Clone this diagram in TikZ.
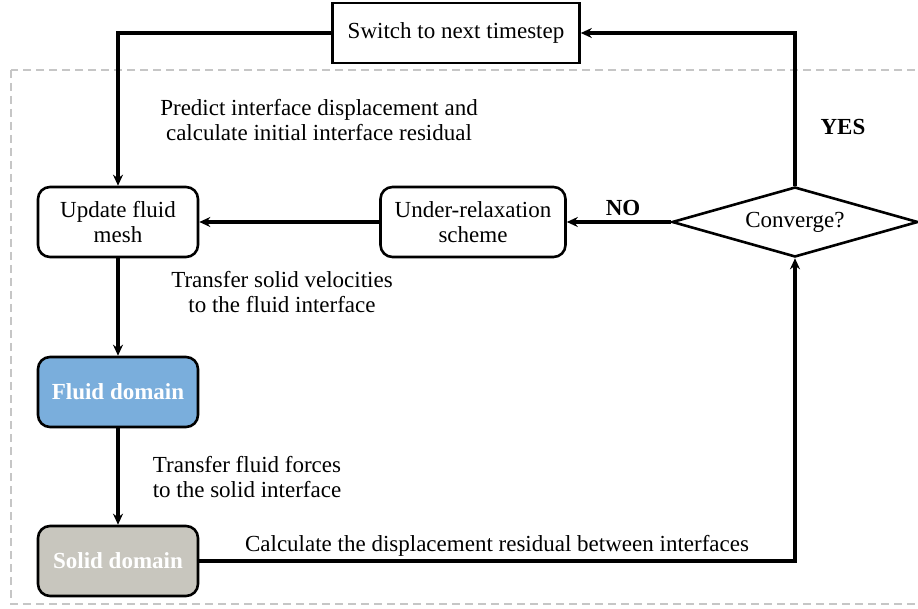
\documentclass[tikz,border=0pt]{standalone}
\usepackage{fontspec}
\setmainfont{Liberation Serif}
\usetikzlibrary{arrows.meta,shapes.geometric}
\begin{document}
\begin{tikzpicture}[x=1pt,y=-1pt,
  every node/.style={font=\fontsize{23}{25.5}\selectfont},
  conn/.style={line width=3.2pt,-{Stealth[length=11pt,width=10pt]}},
  rbox/.style={draw,line width=2.6pt,rounded corners=12pt,minimum width=160pt,minimum height=70pt,align=center,inner sep=2pt},
  lbl/.style={align=center,inner sep=0pt},
  bld/.style={font=\fontsize{23}{25.5}\selectfont\bfseries}]
\useasboundingbox (0,0) rectangle (918,609);
\draw[gray!45,line width=1.8pt,dash pattern=on 8pt off 5pt] (11,70) rectangle (930,604);
\node[draw,line width=2.6pt,minimum width=247pt,minimum height=60pt] (sw) at (456,33) {Switch to next timestep};
\node[rbox] (upd) at (118,222) {Update fluid\\mesh};
\node[rbox,minimum width=185pt] (ur) at (473,222) {Under-relaxation\\scheme};
\node[draw,diamond,line width=2.6pt,aspect=3.5,minimum width=246pt,minimum height=70pt,inner sep=0pt] (cv) at (795,222) {Converge?};
\node[rbox,bld,fill={rgb,255:red,122;green,174;blue,220},text=white] (fl) at (118,392) {Fluid domain};
\node[rbox,bld,fill={rgb,255:red,200;green,198;blue,190},text=white] (so) at (118,561) {Solid domain};
\coordinate (c1) at (upd.north |- sw.west);
\coordinate (c2) at (cv.north |- sw.east);
\coordinate (c3) at (cv.south |- so.east);
\draw[conn] (sw.west) -- (c1) -- (upd.north);
\draw[conn] (cv.north) -- (c2) -- (sw.east);
\draw[conn] (cv.west) -- (ur.east);
\draw[conn] (ur.west) -- (upd.east);
\draw[conn] (upd.south) -- (fl.north);
\draw[conn] (fl.south) -- (so.north);
\draw[conn] (so.east) -- (c3) -- (cv.south);
\node[lbl] (t1) at (319,120) {Predict interface displacement and\\calculate initial interface residual};
\node[lbl] (t2) at (282,292) {Transfer solid velocities\\ to the fluid interface};
\node[lbl] (t3) at (247,477) {Transfer fluid forces\\ to the solid interface};
\node[lbl] (t4) at (497,546) {Calculate the displacement residual between interfaces};
\node[lbl,bld] (no) at (623,208) {NO};
\node[lbl,bld] (yes) at (843,127) {YES};
\end{tikzpicture}
\end{document}
